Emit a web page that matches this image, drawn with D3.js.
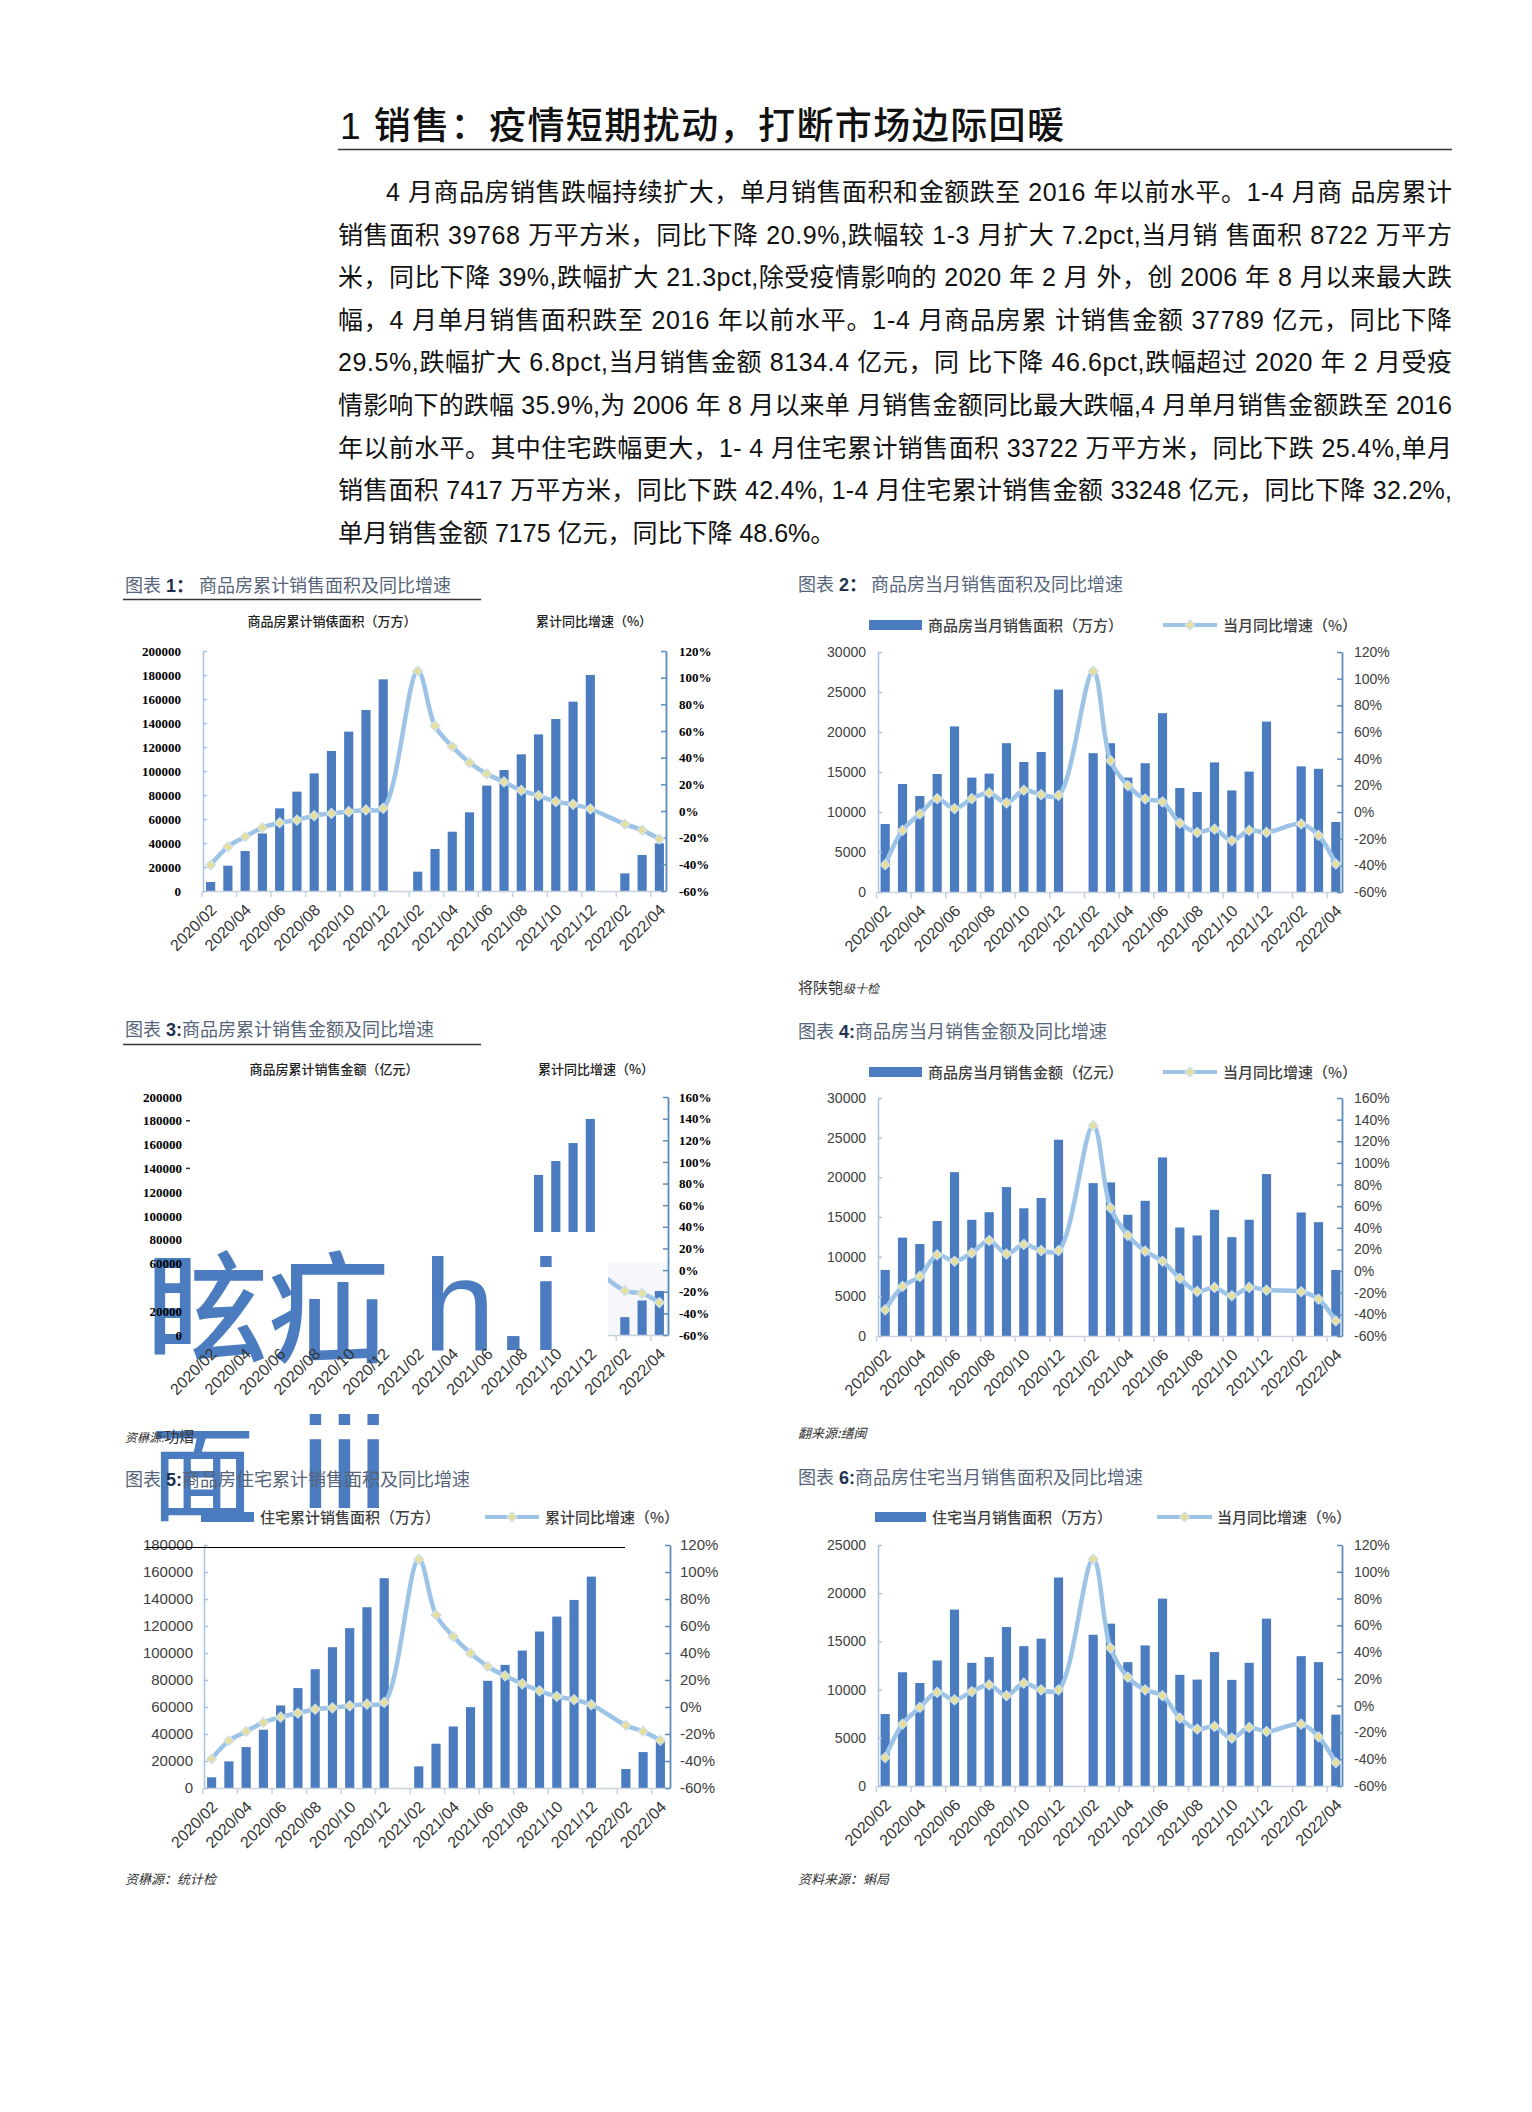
<!DOCTYPE html>
<html>
<head>
<meta charset="utf-8">
<script src="https://cdn.jsdelivr.net/npm/d3@7"></script>
<style>
  html, body { margin: 0; padding: 0; background: #ffffff; }
  svg { display: block; }
</style>
</head>
<body>
<svg id="page" width="1532" height="2112"></svg>
<script>
// ---------------- DATA ----------------
const months = [
  "2020/02","2020/03","2020/04","2020/05","2020/06","2020/07","2020/08","2020/09","2020/10","2020/11","2020/12",
  "2021/01","2021/02","2021/03","2021/04","2021/05","2021/06","2021/07","2021/08","2021/09","2021/10","2021/11","2021/12",
  "2022/01","2022/02","2022/03","2022/04"
];
const tickLabels = ["2020/02","2020/04","2020/06","2020/08","2020/10","2020/12","2021/02","2021/04","2021/06","2021/08","2021/10","2021/12","2022/02","2022/04"];

// 图表1 商品房累计销售面积（万方）/ 累计同比（%）
const c1Bars = [7500,21100,33300,48000,68900,82800,98000,116700,132800,150800,176400,null,16100,35000,49400,65600,87800,100800,113900,130500,143300,157800,180000,null,14700,30000,39700];
const c1Line = [-40.5,-26.8,-19.3,-12.5,-8.8,-6.8,-3.5,-1.8,-0.5,0.8,2,null,105,63.8,48.3,36.3,27.8,21.8,15.5,11.5,7,5,1.5,null,-9.8,-14.3,-21];

// 图表2 商品房当月销售面积（万方）/ 当月同比（%）
const c2Bars = [8500,13500,12000,14750,20700,14300,14800,18600,16250,17500,25300,null,17350,18600,14300,16100,22350,13000,12500,16200,12700,15050,21300,null,15700,15400,8750];
const c2Line = [-39.5,-13.8,-1.5,10,2.5,10,14.3,6.8,16.3,13,12.5,null,105.5,38.5,19.8,9.8,7.5,-8.3,-15.3,-12.8,-21.5,-13.8,-15.3,null,-9,-17.5,-39];

// 图表3 商品房累计销售金额（亿元）/ 累计同比（%）— only the visible parts
const c3Bars = [null,null,null,null,null,null,null,null,null,null,null,null,null,null,null,null,null,null,null,134500,146200,161300,181500,null,15000,29000,37000];
const c3Line = [null,null,null,null,null,null,null,null,null,null,null,null,null,null,null,null,null,null,null,null,null,null,4.8,null,-19,-21.6,-30];

// 图表4 商品房当月销售金额（亿元）/ 当月同比（%）
const c4Bars = [8330,12400,11600,14500,20650,14650,15600,18770,16100,17400,24740,null,19270,19360,15280,17040,22510,13680,12670,15900,12460,14650,20410,null,15570,14350,8330];
const c4Line = [-35.8,-14.2,-4.9,15,9.1,16.8,28.3,15.9,24.6,19,19,null,134.6,58.4,33,18.4,9.1,-6.7,-18.8,-15.1,-22.8,-15.1,-17.6,null,-19.1,-25.9,-46.1];

// 图表5 住宅累计销售面积（万方）/ 累计同比（%）
const c5Bars = [7900,19700,30300,43150,61150,74000,88000,104300,118400,133900,155400,null,16000,32800,45600,59900,79400,91200,101800,115900,127000,139300,156600,null,14100,26600,34500];
const c5Line = [-38.5,-25,-18.1,-11.4,-7.5,-4.5,-1.6,-0.6,0.9,2.1,3.4,null,109.4,68.2,52.2,39.9,30,23.1,17.2,12,7.8,5.4,1.7,null,-13.6,-18.1,-24.7];

// 图表6 住宅当月销售面积（万方）/ 当月同比（%）
const c6Bars = [7465,11800,10690,13020,18300,12780,13370,16490,14510,15280,21630,null,15690,16840,12850,14580,19440,11530,11040,13890,11010,12780,17360,null,13470,12850,7400];
const c6Line = [-38.8,-13.8,-1.3,10,4.3,10.5,15.5,7.5,16.8,11.8,11.8,null,109.5,43,21.3,11.8,7.5,-9.3,-17.5,-15.5,-24.3,-16.3,-19.3,null,-13.8,-23.3,-42.5];

// texts
const titleText = "1 销售：疫情短期扰动，打断市场边际回暖";
const bodyLines = [
  "4 月商品房销售跌幅持续扩大，单月销售面积和金额跌至 2016 年以前水平。1-4 月商 品房累计",
  "销售面积 39768 万平方米，同比下降 20.9%,跌幅较 1-3 月扩大 7.2pct,当月销 售面积 8722 万平方",
  "米，同比下降 39%,跌幅扩大 21.3pct,除受疫情影响的 2020 年 2 月 外，创 2006 年 8 月以来最大跌",
  "幅，4 月单月销售面积跌至 2016 年以前水平。1-4 月商品房累 计销售金额 37789 亿元，同比下降",
  "29.5%,跌幅扩大 6.8pct,当月销售金额 8134.4 亿元，同 比下降 46.6pct,跌幅超过 2020 年 2 月受疫",
  "情影响下的跌幅 35.9%,为 2006 年 8 月以来单 月销售金额同比最大跌幅,4 月单月销售金额跌至 2016",
  "年以前水平。其中住宅跌幅更大，1- 4 月住宅累计销售面积 33722 万平方米，同比下跌 25.4%,单月",
  "销售面积 7417 万平方米，同比下跌 42.4%, 1-4 月住宅累计销售金额 33248 亿元，同比下降 32.2%,",
  "单月销售金额 7175 亿元，同比下降 48.6%。"
];
const overlayTexts = ["眩疝", "h.i", "面", "iii"];

// ---------------- DRAWING ----------------
const CJK = "'Noto Sans CJK SC', sans-serif";
const MIX = "'Liberation Sans', 'Noto Sans CJK SC', sans-serif";
const SERIF = "'Liberation Serif', 'Noto Sans CJK SC', serif";
const BAR = "#4a7cbf";
const LINE = "#9dc3e6";
const MK_FILL = "#e4df9c";
const MK_STROKE = "#cfe0f0";

const svg = d3.select("#page");
const defs = svg.append("defs");

// ---------- overlay glyphs (scan artefacts), drawn first so chart text sits on top ----------
const ov = svg.append("g").attr("fill", BAR);
ov.append("text").attr("x", 147).attr("y", 1353).attr("font-family", CJK).attr("font-size", 121).attr("font-weight", 500).text(overlayTexts[0]);
ov.append("text").attr("x", 423).attr("y", 1350).attr("font-family", "'Liberation Sans', sans-serif").attr("font-size", 130).text(overlayTexts[1]);
ov.append("text").attr("x", 150).attr("y", 1512).attr("font-family", CJK).attr("font-size", 105).text(overlayTexts[2]);
ov.append("text").attr("x", 301).attr("y", 1508).attr("font-family", "'Liberation Sans', sans-serif").attr("font-size", 130).text(overlayTexts[3]);

// Title + rule
svg.append("text").attr("x", 340).attr("y", 139)
  .attr("font-family", MIX).attr("font-size", 37).attr("font-weight", 500).attr("fill", "#111")
  .attr("textLength", 724).attr("lengthAdjust", "spacing")
  .text(titleText);
svg.append("line").attr("x1", 338).attr("x2", 1452).attr("y1", 149.5).attr("y2", 149.5)
  .attr("stroke", "#333").attr("stroke-width", 1.5);

// Body paragraph (justified lines)
bodyLines.forEach((t, i) => {
  const x0 = i === 0 ? 386 : 338;
  const tx = svg.append("text").attr("x", x0).attr("y", 201 + i * 42.6)
    .attr("font-family", MIX).attr("font-size", 25).attr("fill", "#111").text(t);
  if (i < bodyLines.length - 1) tx.attr("textLength", 1452 - x0).attr("lengthAdjust", "spacing");
});

function caption(x, y, num, sep, rest, restX) {
  const t = svg.append("text").attr("x", x).attr("y", y)
    .attr("font-family", MIX).attr("font-size", 18).attr("fill", "#56657a");
  t.append("tspan").text("图表 ");
  t.append("tspan").attr("font-weight", "bold").attr("fill", "#22324e").text(num);
  t.append("tspan").attr("font-weight", "bold").attr("fill", "#22324e").text(sep);
  const r = t.append("tspan").text(rest);
  if (restX != null) r.attr("x", restX);
}

function underline(x1, x2, y) {
  svg.append("line").attr("x1", x1).attr("x2", x2).attr("y1", y).attr("y2", y)
    .attr("stroke", "#333").attr("stroke-width", 1.5);
}

function diamond(r) { return `M0,${-r}L${r},0L0,${r}L${-r},0Z`; }

function legend(cfg) {
  const g = svg.append("g");
  g.append("rect").attr("x", cfg.sw[0]).attr("y", cfg.y - 5).attr("width", cfg.sw[1] - cfg.sw[0]).attr("height", 10).attr("fill", BAR);
  g.append("text").attr("x", cfg.t1).attr("y", cfg.y + 5.5).attr("font-family", CJK).attr("font-size", 15)
    .attr("font-weight", 500).attr("fill", "#404040").text(cfg.label1);
  g.append("line").attr("x1", cfg.ln[0]).attr("x2", cfg.ln[1]).attr("y1", cfg.y).attr("y2", cfg.y)
    .attr("stroke", LINE).attr("stroke-width", 4);
  g.append("path").attr("d", diamond(5)).attr("transform", `translate(${(cfg.ln[0] + cfg.ln[1]) / 2},${cfg.y})`)
    .attr("fill", MK_FILL).attr("stroke", MK_STROKE).attr("stroke-width", 1.2);
  g.append("text").attr("x", cfg.t2).attr("y", cfg.y + 5.5).attr("font-family", CJK).attr("font-size", 15)
    .attr("font-weight", 500).attr("fill", "#404040").text(cfg.label2);
}

function chart(cfg) {
  const g = svg.append("g");
  const x = d3.scaleBand().domain(months).range(cfg.band).paddingInner(0.47).paddingOuter(0.235);
  const yL = d3.scaleLinear().domain(cfg.lDom).range([cfg.bottom, cfg.top]);
  const yR = d3.scaleLinear().domain(cfg.rDom).range([cfg.bottom, cfg.top]);
  const cx = m => x(m) + x.bandwidth() / 2;

  // bars
  const barData = months.map((m, i) => ({ m, v: cfg.bars[i] })).filter(d => d.v != null);
  const bg = g.append("g");
  if (cfg.barClip) bg.attr("clip-path", `url(#${cfg.barClip})`);
  bg.selectAll("rect").data(barData).join("rect")
    .attr("x", d => x(d.m)).attr("width", x.bandwidth())
    .attr("y", d => yL(d.v)).attr("height", d => yL(0) - yL(d.v))
    .attr("fill", BAR);

  // x axis line + ticks
  const xa = g.append("g");
  xa.append("line").attr("x1", cfg.xAxisFrom || cfg.leftAxisX).attr("x2", cfg.rightAxisX)
    .attr("y1", cfg.bottom + 0.5).attr("y2", cfg.bottom + 0.5).attr("stroke", "#c9d3dd").attr("stroke-width", 1.5);
  const gap = (x.step() - x.bandwidth()) / 2;
  const tickCats = tickLabels.filter(m => !cfg.xTickFrom || cx(m) >= cfg.xTickFrom);
  xa.selectAll("line.tk").data(tickCats).join("line").attr("class", "tk")
    .attr("x1", m => x(m) - gap).attr("x2", m => x(m) - gap)
    .attr("y1", cfg.bottom).attr("y2", cfg.bottom + 6)
    .attr("stroke", "#c9d3dd").attr("stroke-width", 1.5);

  // x labels via axis
  const xAxis = g.append("g").attr("transform", `translate(0,${cfg.bottom})`)
    .call(d3.axisBottom(x).tickValues(tickLabels).tickSize(0));
  xAxis.select(".domain").remove();
  xAxis.selectAll("text")
    .attr("x", 0).attr("y", 0).attr("dy", 0)
    .attr("transform", `translate(${cfg.xlOff[0]},${cfg.xlOff[1]}) rotate(-45)`)
    .style("text-anchor", "end")
    .attr("font-family", MIX).attr("font-size", cfg.xlSize).attr("fill", "#333");

  // left axis
  const lAxis = g.append("g").attr("transform", `translate(${cfg.leftAxisX},0)`)
    .call(d3.axisLeft(yL).tickValues(cfg.lTicks).tickSize(cfg.showLeftLine === false ? 0 : -4).tickSizeOuter(0)
      .tickPadding(cfg.leftAxisX - cfg.leftLabelX).tickFormat(d3.format("d")));
  lAxis.select(".domain").attr("stroke", cfg.showLeftLine === false ? "none" : "#a9c3dc").attr("stroke-width", 1.5);
  lAxis.selectAll(".tick line").attr("stroke", "#a9c3dc").attr("stroke-width", 1.5);
  lAxis.selectAll("text").attr("font-family", cfg.af).attr("font-size", cfg.as)
    .attr("font-weight", cfg.aw).attr("fill", cfg.ac);

  // right axis
  const rAxis = g.append("g").attr("transform", `translate(${cfg.rightAxisX},0)`)
    .call(d3.axisRight(yR).tickValues(cfg.rTicks).tickSize(-5).tickSizeOuter(0)
      .tickPadding(cfg.rightLabelX - cfg.rightAxisX).tickFormat(d => d + "%"));
  rAxis.select(".domain").attr("stroke", "#5b8cb8").attr("stroke-width", 1.8);
  rAxis.selectAll(".tick line").attr("stroke", "#5b8cb8").attr("stroke-width", 1.5);
  rAxis.selectAll("text").attr("font-family", cfg.af).attr("font-size", cfg.as)
    .attr("font-weight", cfg.aw).attr("fill", cfg.ac);

  // line + markers
  const pts = months.map((m, i) => ({ m, v: cfg.line[i], i })).filter(d => d.v != null);
  const lg = g.append("g");
  if (cfg.lineClip) lg.attr("clip-path", `url(#${cfg.lineClip})`);
  const lineGen = d3.line().x(d => cx(d.m)).y(d => yR(d.v)).curve(d3.curveCatmullRom.alpha(0.5));
  lg.append("path").datum(pts).attr("d", lineGen).attr("fill", "none")
    .attr("stroke", LINE).attr("stroke-width", 4.5).attr("stroke-linejoin", "round");
  lg.selectAll("path.mk").data(pts).join("path").attr("class", "mk")
    .attr("d", diamond(5))
    .attr("transform", d => `translate(${cx(d.m)},${yR(d.v)})`)
    .attr("fill", MK_FILL).attr("stroke", MK_STROKE).attr("stroke-width", 1.2);
  return { x, yL, yR };
}

function axisTitle(x, y, t) {
  svg.append("text").attr("x", x).attr("y", y).attr("text-anchor", "middle")
    .attr("font-family", CJK).attr("font-size", 13).attr("font-weight", 500).attr("fill", "#222").text(t);
}

function source(x, y, parts) {
  const t = svg.append("text").attr("x", x).attr("y", y).attr("font-family", CJK).attr("fill", "#333");
  parts.forEach(p => t.append("tspan").attr("font-size", p.s).attr("font-style", p.i ? "italic" : "normal").text(p.t));
}

// ---------- 图表1 ----------
caption(125, 592, "1", "：", "商品房累计销售面积及同比增速", 199);
underline(123, 481, 599.5);
axisTitle(332, 626, "商品房累计销俵面积（万方）");
axisTitle(594, 626, "累计同比增速（%）");
chart({
  band: [202, 668], top: 651, bottom: 891,
  lDom: [0, 200000], lTicks: d3.range(0, 200001, 20000),
  rDom: [-60, 120], rTicks: d3.range(-60, 121, 20),
  leftAxisX: 203, rightAxisX: 666, leftLabelX: 181, rightLabelX: 679,
  af: SERIF, as: 13, aw: "bold", ac: "#000",
  bars: c1Bars, line: c1Line, xlOff: [7, 20], xlSize: 16
});

// ---------- 图表2 ----------
caption(798, 591, "2", "：", "商品房当月销售面积及同比增速", 871);
legend({ y: 625, sw: [869, 922], t1: 928, ln: [1163, 1217], t2: 1223,
  label1: "商品房当月销售面积（万方）", label2: "当月同比增速（%）" });
chart({
  band: [876.5, 1344.5], top: 652, bottom: 892,
  lDom: [0, 30000], lTicks: d3.range(0, 30001, 5000),
  rDom: [-60, 120], rTicks: d3.range(-60, 121, 20),
  leftAxisX: 878, rightAxisX: 1342, leftLabelX: 866, rightLabelX: 1354,
  af: MIX, as: 14, aw: "normal", ac: "#404040",
  bars: c2Bars, line: c2Line, xlOff: [7, 20], xlSize: 16
});
source(798, 993, [{ t: "将陕匏", s: 15 }, { t: "级十检", s: 12, i: true }]);

// ---------- 图表3 ----------
caption(125, 1036, "3", ":", "商品房累计销售金额及同比增速");
underline(123, 481, 1044.5);
axisTitle(334, 1074, "商品房累计销售金额（亿元）");
axisTitle(596, 1074, "累计同比增速（%）");
defs.append("clipPath").attr("id", "c3bars").call(c => {
  c.append("rect").attr("x", 530).attr("y", 1085).attr("width", 72).attr("height", 147);
  c.append("rect").attr("x", 608).attr("y", 1262).attr("width", 62).attr("height", 80);
});
defs.append("clipPath").attr("id", "c3line").append("rect")
  .attr("x", 608).attr("y", 1262).attr("width", 62).attr("height", 80);
svg.append("rect").attr("x", 608).attr("y", 1262).attr("width", 60).attr("height", 73).attr("fill", "#f5f7fa");
chart({
  band: [202, 668], top: 1097, bottom: 1335,
  lDom: [0, 200000], lTicks: [0, 20000, 60000, 80000, 100000, 120000, 140000, 160000, 180000, 200000],
  rDom: [-60, 160], rTicks: d3.range(-60, 161, 20),
  leftAxisX: 200, rightAxisX: 668, leftLabelX: 182, rightLabelX: 679, showLeftLine: false,
  xAxisFrom: 608, xTickFrom: 600,
  af: SERIF, as: 13, aw: "bold", ac: "#000",
  bars: c3Bars, line: c3Line, barClip: "c3bars", lineClip: "c3line", xlOff: [7, 20], xlSize: 16
});
// stray dashes next to two labels
[180000, 140000].forEach(v => {
  const y = d3.scaleLinear().domain([0, 200000]).range([1335, 1097])(v);
  svg.append("line").attr("x1", 186).attr("x2", 190).attr("y1", y).attr("y2", y).attr("stroke", "#333").attr("stroke-width", 1.5);
});
source(125, 1442, [{ t: "资楙源:", s: 12, i: true }, { t: "功熠", s: 15 }]);

// ---------- 图表4 ----------
caption(798, 1038, "4", ":", "商品房当月销售金额及同比增速");
legend({ y: 1072, sw: [869, 922], t1: 928, ln: [1163, 1217], t2: 1223,
  label1: "商品房当月销售金额（亿元）", label2: "当月同比增速（%）" });
chart({
  band: [876.5, 1344.5], top: 1098, bottom: 1336,
  lDom: [0, 30000], lTicks: d3.range(0, 30001, 5000),
  rDom: [-60, 160], rTicks: d3.range(-60, 161, 20),
  leftAxisX: 878, rightAxisX: 1342, leftLabelX: 866, rightLabelX: 1354,
  af: MIX, as: 14, aw: "normal", ac: "#404040",
  bars: c4Bars, line: c4Line, xlOff: [7, 20], xlSize: 16
});
source(798, 1438, [{ t: "翻来源:缮闽", s: 13, i: true }]);

// ---------- 图表5 ----------
caption(125, 1486, "5", ":", "商品房住宅累计销售面积及同比增速");
legend({ y: 1517, sw: [201, 254], t1: 260, ln: [485, 539], t2: 545,
  label1: "住宅累计销售面积（万方）", label2: "累计同比增速（%）" });
chart({
  band: [203, 669], top: 1545, bottom: 1788,
  lDom: [0, 180000], lTicks: d3.range(0, 180001, 20000),
  rDom: [-60, 120], rTicks: d3.range(-60, 121, 20),
  leftAxisX: 204, rightAxisX: 670, leftLabelX: 193, rightLabelX: 680,
  af: MIX, as: 15, aw: "normal", ac: "#404040",
  bars: c5Bars, line: c5Line, xlOff: [7, 20], xlSize: 16
});
svg.append("line").attr("x1", 146).attr("x2", 625).attr("y1", 1547.5).attr("y2", 1547.5).attr("stroke", "#000").attr("stroke-width", 1.2);
source(125, 1884, [{ t: "资楙源：统计检", s: 13, i: true }]);

// ---------- 图表6 ----------
caption(798, 1484, "6", ":", "商品房住宅当月销售面积及同比增速");
legend({ y: 1517, sw: [875, 926], t1: 932, ln: [1157, 1212], t2: 1217,
  label1: "住宅当月销售面积（万方）", label2: "当月同比增速（%）" });
chart({
  band: [876.5, 1344.5], top: 1545, bottom: 1786,
  lDom: [0, 25000], lTicks: d3.range(0, 25001, 5000),
  rDom: [-60, 120], rTicks: d3.range(-60, 121, 20),
  leftAxisX: 878, rightAxisX: 1342, leftLabelX: 866, rightLabelX: 1354,
  af: MIX, as: 14, aw: "normal", ac: "#404040",
  bars: c6Bars, line: c6Line, xlOff: [7, 20], xlSize: 16
});
source(798, 1884, [{ t: "资料来源：蝌局", s: 13, i: true }]);
</script>
</body>
</html>
